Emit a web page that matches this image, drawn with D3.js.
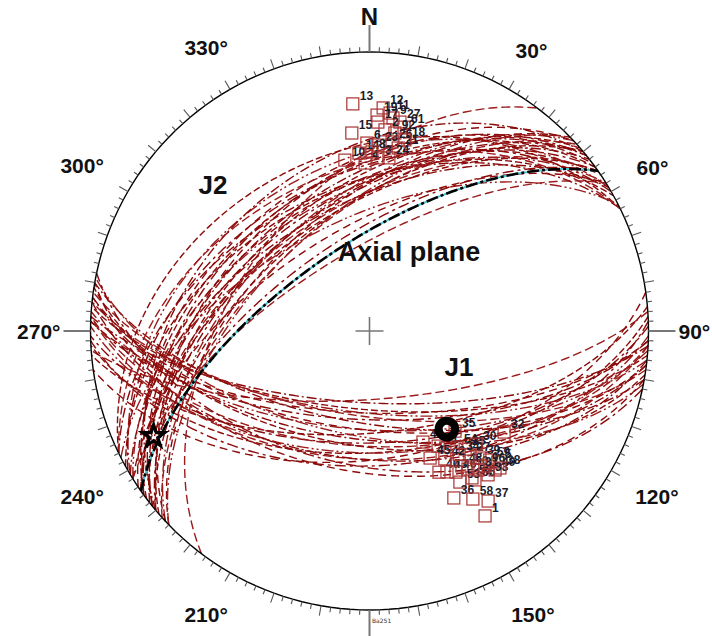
<!DOCTYPE html>
<html><head><meta charset="utf-8">
<script src="https://cdn.jsdelivr.net/npm/d3@7"></script>
<style>body{margin:0;background:#fff}svg{display:block}</style>
</head><body>
<svg id="net" width="712" height="636"></svg>
<script>
// Poles to joint set J1 (trend, plunge in degrees) and their sample numbers
const j1Trend  = [355.8, 3.5, 5.4, 6.3, 2.0, 2.3, 8.3, 9.6, 354.9, 4.4, 7.3, 359.2, 2.6, 6.8, 8.9, 10.5, 351.8, 358.5, 2.8, 6.4, 356.6, 0.8];
const j1Plunge = [19.5, 21.0, 22.6, 24.2, 23.6, 26.0, 25.3, 26.8, 29.5, 28.5, 29.2, 33.1, 33.7, 32.3, 34.0, 31.0, 38.1, 39.6, 37.9, 37.6, 36.3, 36.0];
const j1Label  = ["13","12","11","9","19","17","27","61","15","2","92","6","23","26","21","18","10","4","3","24","14","8"];

// J1 joint planes (dip direction, dip)
const j1DipDir = [176, 183, 185, 186, 182, 182, 188, 190, 175, 184, 187, 179, 183, 187, 189, 191, 172, 178, 183, 186, 177, 181, 190, 192];
const j1Dip    = [70, 69, 67, 66, 66, 64, 65, 63, 60, 61, 61, 57, 56, 58, 56, 59, 52, 50, 52, 52, 54, 54, 48, 50];

// Poles to joint set J2
const j2Trend  = [154.3, 149.2, 143.0, 141.0, 126.9, 153.8, 151.2, 148.5, 145.6, 144.5, 145.1, 149.1, 144.7, 153.2, 148.4, 145.1, 148.0, 141.0, 139.0, 137.0, 135.6, 139.5, 137.9, 142.0, 140.5, 136.4, 136.7, 149.5, 154.5, 139.5, 144.0];
const j2Plunge = [53.6, 50.3, 46.8, 44.7, 39.5, 43.0, 41.9, 40.4, 41.0, 39.1, 36.0, 37.0, 34.9, 33.4, 30.0, 26.6, 22.9, 42.3, 39.5, 36.9, 34.6, 36.5, 33.3, 36.9, 33.6, 32.7, 43.6, 45.8, 48.2, 51.0, 44.5];
const j2Label  = ["44","41","54","25","32","40","43","46","48","50","52","53","55","36","58","37","1","27","39","59","5","96","49","31","33","38","30","42","45","35","34"];

// J2 joint planes (dip direction, dip)
const j2DipDir = [334, 329, 323, 321, 307, 334, 331, 328, 326, 324, 325, 329, 325, 333, 328, 325, 328, 321, 319, 317, 316, 320, 318, 322, 320, 316, 317, 330, 334, 320, 324];
const j2Dip    = [36, 40, 43, 45, 50, 47, 48, 50, 49, 51, 54, 53, 55, 57, 60, 63, 67, 48, 50, 53, 55, 53, 57, 53, 56, 57, 46, 44, 42, 39, 45];

// Axial plane (dip direction / dip), fold-axis intersection and mean pole
const axialDipDir = 325, axialDip = 65;
const foldAxis = [244.0, 15.0];
const meanPole = [141.7, 53.1];

// Compass ring annotation
const compassAngles = [0, 30, 60, 90, 120, 150, 210, 240, 270, 300, 330];
const compassText   = ["N", "30°", "60°", "90°", "120°", "150°", "210°", "240°", "270°", "300°", "330°"];

const W = 712, H = 636, cx = 369.5, cy = 331, R = 279;
const FONT = "Liberation Sans, Arial, sans-serif";
const svg = d3.select("#net");

// Lower-hemisphere equal-area (Schmidt) net
const proj = d3.geoAzimuthalEqualArea()
  .rotate([0, -90])
  .scale(R / Math.SQRT2)
  .translate([cx, cy])
  .clipAngle(90)
  .precision(0.2);
const path = d3.geoPath(proj);
const ll = (trend, plunge) => [180 - trend, plunge];
const pt = (trend, plunge) => proj(ll(trend, plunge));

// great circle of a plane given by dip direction and dip
function plane(dipDir, dip) {
  const ring = d3.geoCircle().center(ll(dipDir + 180, 90 - dip)).radius(90).precision(1)().coordinates[0];
  return {type: "LineString", coordinates: ring};
}

const dashes = ["9,4", "10,3,2,3", "7,3", "12,3,2,3,2,3", "8,5", "11,4,3,4"];
const arcG = svg.append("g").attr("fill", "none");

function drawSet(dipDirs, dips, offset) {
  arcG.append("g").selectAll("path").data(d3.range(dipDirs.length)).join("path")
    .attr("d", i => path(plane(dipDirs[i], dips[i])))
    .attr("stroke", i => (i + offset) % 3 === 0 ? "#9b1c1c" : "#8b0a0a")
    .attr("stroke-width", 1.4)
    .attr("stroke-dasharray", i => dashes[(i + offset) % dashes.length]);
}
drawSet(j1DipDir, j1Dip, 0);
drawSet(j2DipDir, j2Dip, 2);

// axial plane: cyan trace under black dash-dot
const axial = plane(axialDipDir, axialDip);
svg.append("path").attr("d", path(axial)).attr("fill", "none")
  .attr("stroke", "#4cc6d6").attr("stroke-width", 2);
svg.append("path").attr("d", path(axial)).attr("fill", "none")
  .attr("stroke", "#000").attr("stroke-width", 2.6).attr("stroke-dasharray", "12,3,3,3");

// primitive circle and azimuth ticks
svg.append("path").attr("d", path({type: "Sphere"})).attr("fill", "none")
  .attr("stroke", "#000").attr("stroke-width", 1.4);
const tickG = svg.append("g");
d3.range(0, 360, 2).forEach(a => {
  const t = a * Math.PI / 180;
  const major = a % 90 === 0;
  const len = major ? 27 : (a % 10 === 0 ? 10 : 5);
  tickG.append("line")
    .attr("x1", cx + R * Math.sin(t)).attr("y1", cy - R * Math.cos(t))
    .attr("x2", cx + (R + len) * Math.sin(t)).attr("y2", cy - (R + len) * Math.cos(t))
    .attr("stroke", major ? "#777" : "#555").attr("stroke-width", major ? 2 : 1.1);
});

// centre cross
svg.append("path").attr("d", `M${cx - 14},${cy}H${cx + 14}M${cx},${cy - 14}V${cy + 14}`)
  .attr("stroke", "#777").attr("stroke-width", 1.6);

// compass labels, pushed out so the text box clears the ring
svg.append("g").selectAll("text").data(compassAngles).join("text")
  .attr("text-anchor", "middle").attr("dominant-baseline", "central")
  .attr("font-family", FONT).attr("font-weight", "bold")
  .attr("font-size", a => a === 0 ? 24 : 21).attr("fill", "#111")
  .text((a, i) => compassText[i])
  .each(function (a) {
    const t = a * Math.PI / 180;
    const w = this.getComputedTextLength();
    const r = a === 0 ? 315 : 309 + 0.5 * w * Math.abs(Math.sin(t)) + 8 * Math.abs(Math.cos(t));
    d3.select(this).attr("x", cx + r * Math.sin(t)).attr("y", cy - r * Math.cos(t));
  });

// poles
function drawPoles(trends, plunges, labels) {
  const g = svg.append("g");
  d3.range(trends.length).forEach(i => {
    const [x, y] = pt(trends[i], plunges[i]);
    g.append("rect").attr("x", x - 6).attr("y", y - 6).attr("width", 12).attr("height", 12)
      .attr("fill", "none").attr("stroke", "#a83232").attr("stroke-width", 1.2);
    g.append("text").attr("x", x + 7).attr("y", y - 4)
      .attr("font-family", FONT).attr("font-weight", "bold")
      .attr("font-size", 12).attr("fill", "#1b1b2b").text(labels[i]);
  });
}
drawPoles(j1Trend, j1Plunge, j1Label);
drawPoles(j2Trend, j2Plunge, j2Label);

// mean pole ring and fold axis star
const [mx, my] = pt(meanPole[0], meanPole[1]);
svg.append("circle").attr("cx", mx).attr("cy", my).attr("r", 8.3)
  .attr("fill", "none").attr("stroke", "#000").attr("stroke-width", 8);
const [sx, sy] = pt(foldAxis[0], foldAxis[1]);
svg.append("path").attr("transform", `translate(${sx},${sy})`)
  .attr("d", d3.symbol(d3.symbolStar, 150)())
  .attr("fill", "none").attr("stroke", "#000").attr("stroke-width", 3.2);

// set names
const big = sel => sel.attr("font-family", FONT)
  .attr("font-weight", "bold").attr("fill", "#111").attr("text-anchor", "middle")
  .attr("dominant-baseline", "central");
svg.append("text").call(big).attr("x", 213).attr("y", 185).attr("font-size", 26).text("J2");
svg.append("text").call(big).attr("x", 459).attr("y", 367).attr("font-size", 26).text("J1");
svg.append("text").call(big).attr("x", 409).attr("y", 252).attr("font-size", 27).text("Axial plane");

// plot tag
svg.append("text").attr("x", 372).attr("y", 623).attr("font-family", "DejaVu Sans, sans-serif")
  .attr("font-size", 6).attr("fill", "#333").text("Ba251");
</script>
</body></html>
